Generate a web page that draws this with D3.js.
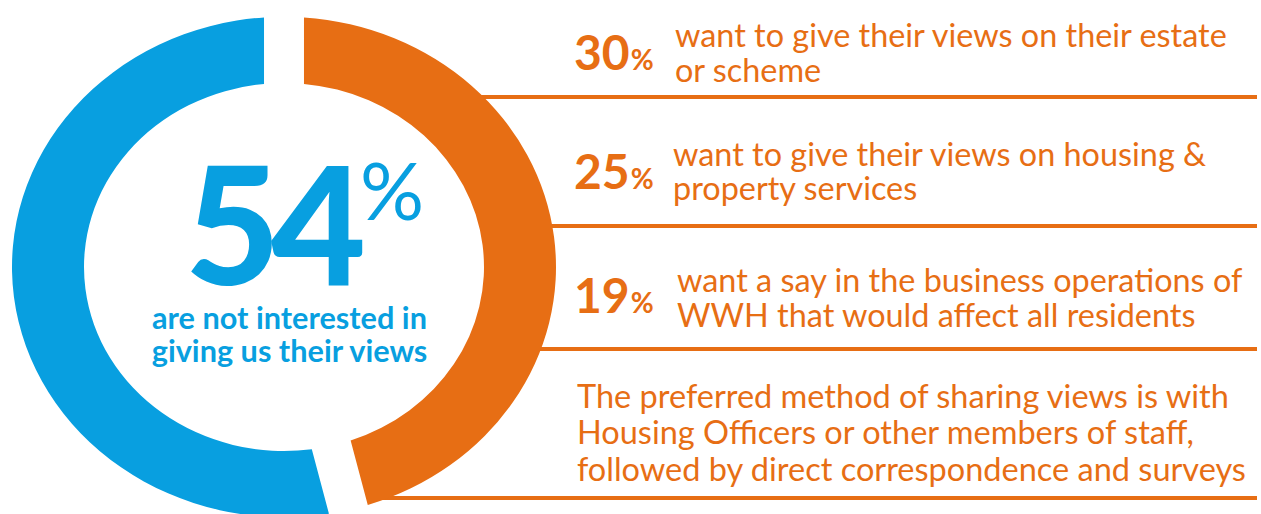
<!DOCTYPE html>
<html>
<head>
<meta charset="utf-8">
<script src="https://cdn.jsdelivr.net/npm/d3@7"></script>
<style>
  html, body { margin: 0; padding: 0; background: #ffffff; overflow: hidden; }
  svg { display: block; }
  text { font-family: Lato, "Open Sans", "Noto Sans", sans-serif; }
</style>
</head>
<body>
<svg id="chart" width="1261" height="514"></svg>
<script>
// ---- data ----
const ringKeys = ["interested", "notInterested"];
const ringValues = [46, 54];
const headlineValue = 54;
const headlineLines = ["are not interested in", "giving us their views"];
const statValues = [30, 25, 19];
const statLines = [
  ["want to give their views on their estate", "or scheme"],
  ["want to give their views on housing &", "property services"],
  ["want a say in the business operations of", "WWH that would affect all residents"]
];
const noteLines = [
  "The preferred method of sharing views is with",
  "Housing Officers or other members of staff,",
  "followed by direct correspondence and surveys"
];

// ---- layout ----
const orange = "#e76e14";
const blue = "#089fe0";
const cx = 284, cy = 267;
const rOuter = 272, rInner = 200, squash = 0.92, gap = 40;

const svg = d3.select("#chart");

// scale a group of text nodes so that a reference line spans a given width
function fitFont(group, refNode, target) {
  const fs = parseFloat(d3.select(refNode).attr("font-size"));
  const w = refNode.getComputedTextLength();
  group.attr("font-size", fs * target / w);
}

// horizontal rules, starting at the ring's outer edge
const ruleY = [97, 226, 349, 498];
const ruleRight = 1257;
function ringEdgeX(y) {
  const t = (y - cy) / (rOuter * squash);
  return cx + rOuter * Math.sqrt(Math.max(0, 1 - t * t));
}
svg.append("g")
  .selectAll("line")
  .data(ruleY)
  .join("line")
  .attr("x1", y => ringEdgeX(y) - 8)
  .attr("x2", ruleRight)
  .attr("y1", y => y)
  .attr("y2", y => y)
  .attr("stroke", orange)
  .attr("stroke-width", 4);

// donut ring
const color = d3.scaleOrdinal().domain(ringKeys).range([orange, blue]);
const arcs = d3.pie().sort(null).padAngle(gap / rOuter)(ringValues);
const arc = d3.arc().innerRadius(rInner).outerRadius(rOuter).padRadius(rOuter);
svg.append("g")
  .attr("transform", `translate(${cx},${cy}) scale(1,${squash})`)
  .selectAll("path")
  .data(arcs)
  .join("path")
  .attr("d", arc)
  .attr("fill", (d, i) => color(ringKeys[i]));

// headline figure in the middle of the ring
svg.append("text")
  .attr("x", 185)
  .attr("y", 285)
  .attr("font-size", 164)
  .attr("font-weight", 900)
  .attr("letter-spacing", -9)
  .attr("fill", blue)
  .text(headlineValue);
svg.append("text")
  .attr("x", 360)
  .attr("y", 220)
  .attr("font-size", 80)
  .attr("font-weight", 400)
  .attr("fill", blue)
  .text("%");

const headTexts = svg.append("g")
  .selectAll("text")
  .data(headlineLines)
  .join("text")
  .attr("x", 289.5)
  .attr("y", (d, i) => [329, 362][i])
  .attr("text-anchor", "middle")
  .attr("font-size", 26)
  .attr("font-weight", 700)
  .attr("fill", blue)
  .text(d => d);
fitFont(headTexts, headTexts.nodes()[0], 275);

// statistics rows
const numX = 574;
const numY = [70, 189, 313];
const textX = [675, 673, 677];
const textY = [[47, 82], [166, 200], [292, 327]];

const nums = svg.append("g")
  .selectAll("text")
  .data(statValues)
  .join("text")
  .attr("x", numX)
  .attr("y", (d, i) => numY[i])
  .attr("font-weight", 700)
  .attr("fill", orange);
nums.append("tspan").attr("font-size", 48).text(d => d);
nums.append("tspan").attr("font-size", 28).attr("dx", 1).text("%");

const statFlat = statLines.flatMap((lines, r) => lines.map((t, k) => ({ t, r, k })));
const statTexts = svg.append("g")
  .selectAll("text")
  .data(statFlat)
  .join("text")
  .attr("x", d => textX[d.r])
  .attr("y", d => textY[d.r][d.k])
  .attr("font-size", 27)
  .attr("fill", orange)
  .text(d => d.t);
fitFont(statTexts, statTexts.nodes()[0], 552);

// closing note
const noteTexts = svg.append("g")
  .selectAll("text")
  .data(noteLines)
  .join("text")
  .attr("x", 577)
  .attr("y", (d, i) => [408, 444, 481][i])
  .attr("font-size", 29)
  .attr("fill", orange)
  .text(d => d);
fitFont(noteTexts, noteTexts.nodes()[2], 669);
</script>
</body>
</html>
